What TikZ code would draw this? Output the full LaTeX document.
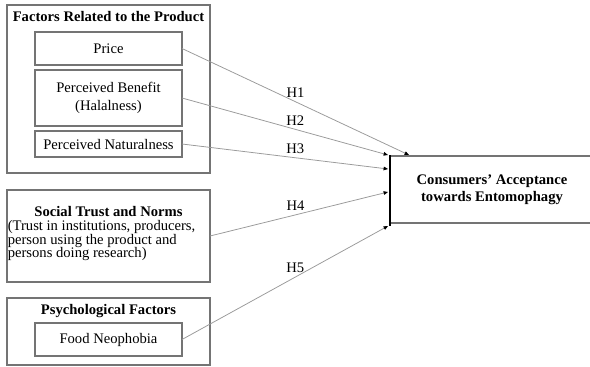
\documentclass[tikz,border=0pt]{standalone}
\usepackage{fontspec}
\setmainfont{Liberation Serif}
\usetikzlibrary{calc,arrows.meta}
\definecolor{boxgray}{HTML}{747474}
\definecolor{linegray}{HTML}{9A9A9A}

\begin{document}
\begin{tikzpicture}[x=0.025cm, y=-0.025cm,
    group/.style={draw=boxgray, line width=0.8pt, outer sep=0pt, inner sep=0pt,
                  minimum width=5.075cm},
    box/.style={draw=boxgray, line width=0.8pt, outer sep=0pt, inner sep=0pt, align=center,
                minimum width=3.675cm, font=\fontsize{10.4}{12.8}\selectfont},
    title/.style={font=\fontsize{10.4}{12}\selectfont\bfseries, inner sep=0pt},
    arrow/.style={-{Triangle[length=1.1mm, width=0.9mm, color=black]}, line width=0.55pt, draw=linegray},
    hlabel/.style={font=\fontsize{10.4}{12}\selectfont, above, inner sep=2.6pt}
  ]
    \useasboundingbox (0,0) rectangle (590,367);
    \clip (0,0) rectangle (590,367);

    % product related factors
    \node[group, minimum height=4.2cm] (product) at (108.5,89) {};
    \node[title] (productttl) at (108.5,17) {Factors Related to the Product};
    \node[box, minimum height=0.825cm] (price)   at (108.5,48.5) {Price};
    \node[box, minimum height=1.4cm]   (benefit) at (108.5,98)   {Perceived Benefit\\(Halalness)};
    \node[box, minimum height=0.65cm]  (natural) at (108.5,144)  {Perceived Naturalness};

    % social trust
    \node[group, minimum height=2.3cm] (social) at (108.5,236) {};
    \node[title] (socialttl) at (108.5,212) {Social Trust and Norms};
    \node[anchor=west, align=left, inner sep=0pt, font=\fontsize{10.4}{9.6}\selectfont]
      (socialtxt) at (7.5,241) {(Trust in institutions, producers,\\person using the product and\\persons doing research)};

    % psychological factors
    \node[group, minimum height=1.675cm] (psych) at (108.5,331.5) {};
    \node[title] (psychttl) at (108.5,311) {Psychological Factors};
    \node[box, minimum height=0.825cm] (neo) at (108.5,339.5) {Food Neophobia};

    % dependent variable
    \node[draw=boxgray, line width=0.9pt, minimum width=5.1cm, minimum height=1.675cm,
          outer sep=0pt, align=center, font=\fontsize{10.4}{11.9}\selectfont\bfseries]
      (accept) at (492,189.5) {Consumers’ Acceptance\\towards Entomophagy};

    \coordinate (t1) at (409,155);
    \coordinate (t2) at (388,155);
    \coordinate (t3) at (388,169);
    \coordinate (t4) at (388,192);
    \coordinate (t5) at (388,226);
    \draw[black, line width=1pt] (390,155) -- (390,226);

    \draw[arrow] (price.east)   -- node[hlabel, pos=0.50] {H1} (t1);
    \draw[arrow] (benefit.east) -- node[hlabel, pos=0.55] {H2} (t2);
    \draw[arrow] (natural.east) -- node[hlabel, pos=0.55] {H3} (t3);
    \draw[arrow] (social.east)  -- node[hlabel, pos=0.48] {H4} (t4);
    \draw[arrow] (neo.east)     -- node[hlabel, pos=0.55] {H5} (t5);
\end{tikzpicture}
\end{document}
